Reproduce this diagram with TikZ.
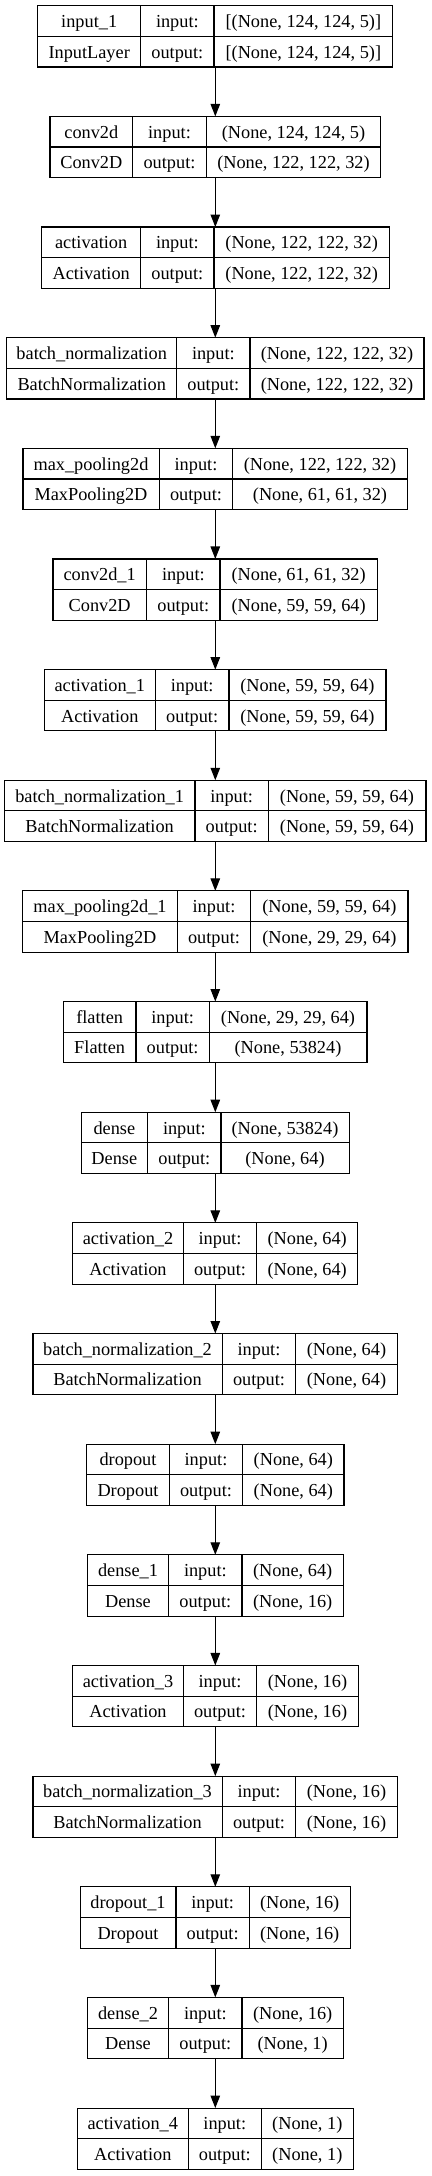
\documentclass[tikz,border=0pt]{standalone}
\usepackage{fontspec}
\setmainfont{Liberation Serif}
\usetikzlibrary{arrows.meta}
\tikzset{
  boxst/.style={draw=black, line width=1.1pt, rectangle, inner sep=0pt, outer sep=0pt, minimum height=61.3pt},
  cellline/.style={draw=black, line width=1.1pt},
  txt/.style={anchor=base, inner sep=0pt, font=\fontsize{18.3}{20}\selectfont},
  arr/.style={draw=black, line width=1.1pt, -{Triangle[length=12.5pt,width=9.5pt]}}
}
\newcommand\lbox[9]{%
  \pgfmathsetmacro\T{5.7+#1*110.65}%
  \pgfmathsetmacro\W{#5-#2}%
  \node[boxst, minimum width=\W pt] (b#1) at (215.3,\T+30.65) {};
  \draw[cellline] (#3,\T) -- (#3,\T+61.3);
  \draw[cellline] (#4,\T) -- (#4,\T+61.3);
  \draw[cellline] (#2,\T+30.65) -- (#5,\T+30.65);
  \node[txt] (n#1) at ({(#2+#3)/2},\T+21.8) {#6};
  \node[txt] (ty#1) at ({(#2+#3)/2},\T+52.4) {#7};
  \node[txt] (il#1) at ({(#3+#4)/2},\T+21.8) {input:};
  \node[txt] (ol#1) at ({(#3+#4)/2},\T+52.4) {output:};
  \node[txt] (iv#1) at ({(#4+#5)/2},\T+21.8) {#8};
  \node[txt] (ov#1) at ({(#4+#5)/2},\T+52.4) {#9};
}
\begin{document}
\begin{tikzpicture}[x=1pt,y=-1pt]
\useasboundingbox (0,0) rectangle (431,2176);
\lbox{0}{37.7}{140.7}{214}{392.7}{input\_1}{InputLayer}{[(None, 124, 124, 5)]}{[(None, 124, 124, 5)]}
\lbox{1}{50}{132.7}{206.3}{380.7}{conv2d}{Conv2D}{(None, 124, 124, 5)}{(None, 122, 122, 32)}
\lbox{2}{41.7}{140.7}{214}{389.3}{activation}{Activation}{(None, 122, 122, 32)}{(None, 122, 122, 32)}
\lbox{3}{6.7}{176.7}{250}{424}{batch\_normalization}{BatchNormalization}{(None, 122, 122, 32)}{(None, 122, 122, 32)}
\lbox{4}{22.7}{159.3}{232.7}{407.3}{max\_pooling2d}{MaxPooling2D}{(None, 122, 122, 32)}{(None, 61, 61, 32)}
\lbox{5}{52.7}{146.7}{220}{377.3}{conv2d\_1}{Conv2D}{(None, 61, 61, 32)}{(None, 59, 59, 64)}
\lbox{6}{44.3}{155.3}{229}{385.7}{activation\_1}{Activation}{(None, 59, 59, 64)}{(None, 59, 59, 64)}
\lbox{7}{4.3}{195}{268.3}{425.7}{batch\_normalization\_1}{BatchNormalization}{(None, 59, 59, 64)}{(None, 59, 59, 64)}
\lbox{8}{22.7}{177.3}{250.7}{408}{max\_pooling2d\_1}{MaxPooling2D}{(None, 59, 59, 64)}{(None, 29, 29, 64)}
\lbox{9}{63.3}{136}{209.3}{366.7}{flatten}{Flatten}{(None, 29, 29, 64)}{(None, 53824)}
\lbox{10}{81}{147.7}{221}{349}{dense}{Dense}{(None, 53824)}{(None, 64)}
\lbox{11}{72.7}{183.3}{256.7}{357.7}{activation\_2}{Activation}{(None, 64)}{(None, 64)}
\lbox{12}{32.7}{222.3}{295.7}{397.3}{batch\_normalization\_2}{BatchNormalization}{(None, 64)}{(None, 64)}
\lbox{13}{86.7}{169.3}{242.7}{344}{dropout}{Dropout}{(None, 64)}{(None, 64)}
\lbox{14}{87.3}{168.7}{242}{343.3}{dense\_1}{Dense}{(None, 64)}{(None, 16)}
\lbox{15}{72.7}{183.3}{256.7}{358.3}{activation\_3}{Activation}{(None, 16)}{(None, 16)}
\lbox{16}{32.7}{222.3}{295.7}{397.3}{batch\_normalization\_3}{BatchNormalization}{(None, 16)}{(None, 16)}
\lbox{17}{80}{176}{249.3}{350}{dropout\_1}{Dropout}{(None, 16)}{(None, 16)}
\lbox{18}{87.3}{168.7}{242}{343.3}{dense\_2}{Dense}{(None, 16)}{(None, 1)}
\lbox{19}{77.3}{188.3}{261.3}{353.3}{activation\_4}{Activation}{(None, 1)}{(None, 1)}
\foreach \i [evaluate=\i as \j using int(\i+1)] in {0,...,18}
  \draw[arr] (b\i.south) -- (b\j.north);
\end{tikzpicture}
\end{document}
